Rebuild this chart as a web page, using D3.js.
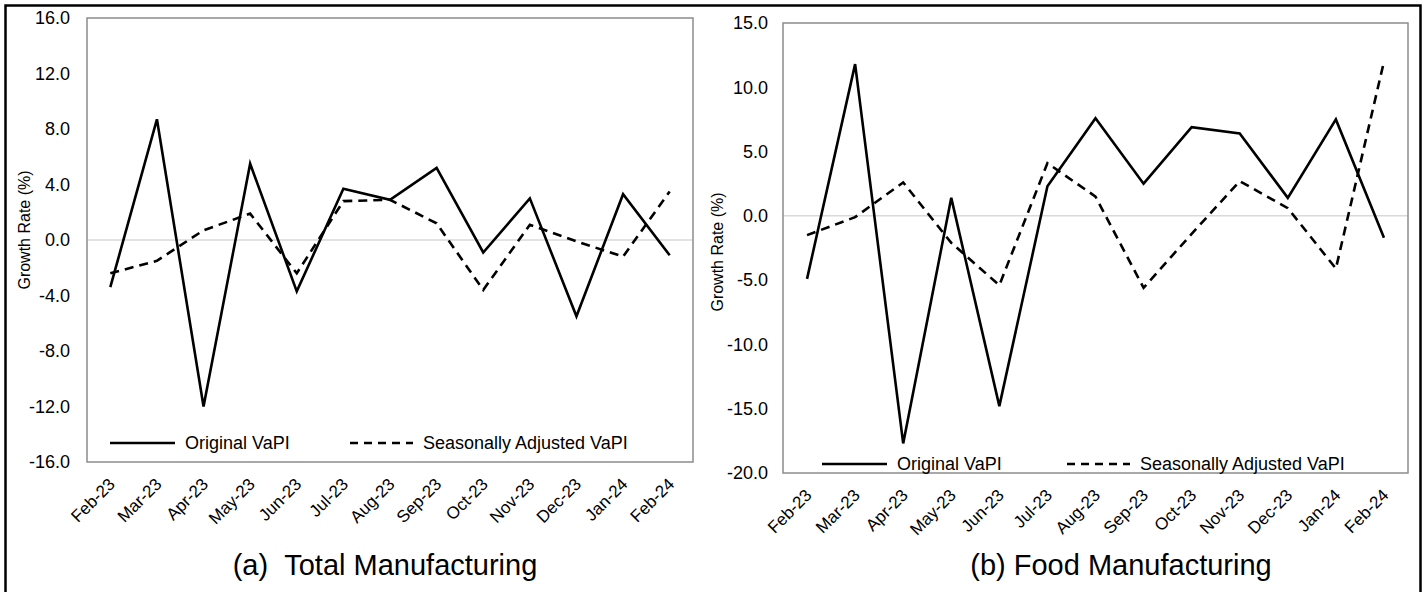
<!DOCTYPE html>
<html><head><meta charset="utf-8">
<script src="https://cdn.jsdelivr.net/npm/d3@7/dist/d3.min.js"></script>
<style>
body{margin:0;background:#fff}
svg{display:block}
text{font-family:"Liberation Sans", Arial, sans-serif;fill:#000}
</style>
</head><body>
<svg id="chart" width="1428" height="592"></svg>
<script>
const months = ["Feb-23","Mar-23","Apr-23","May-23","Jun-23","Jul-23","Aug-23","Sep-23","Oct-23","Nov-23","Dec-23","Jan-24","Feb-24"];
const totalOriginal = [-3.4, 8.7, -12.0, 5.5, -3.7, 3.7, 2.9, 5.2, -0.9, 3.0, -5.5, 3.3, -1.1];
const totalSeasonal = [-2.4, -1.5, 0.7, 1.9, -2.4, 2.8, 2.9, 1.2, -3.6, 1.1, -0.1, -1.2, 3.5];
const foodOriginal = [-4.9, 11.8, -17.7, 1.4, -14.8, 2.3, 7.6, 2.5, 6.9, 6.4, 1.4, 7.5, -1.7];
const foodSeasonal = [-1.5, -0.1, 2.6, -2.1, -5.4, 4.1, 1.5, -5.6, -1.4, 2.7, 0.6, -4.1, 12.0];
const totalTicks = [16, 12, 8, 4, 0, -4, -8, -12, -16];
const foodTicks = [15, 10, 5, 0, -5, -10, -15, -20];
const seriesNames = ["Original VaPI", "Seasonally Adjusted VaPI"];
const titles = ["(a)\u00A0\u00A0Total Manufacturing", "(b) Food Manufacturing"];

const svg = d3.select("#chart");
const FONT = '"Liberation Sans", Arial, sans-serif';

// outer frame
svg.append("path")
  .attr("d", "M5.5,600 L5.5,5.5 L1420.5,5.5 L1420.5,600")
  .attr("fill", "none").attr("stroke", "#000").attr("stroke-width", 2.5);

function panel(cfg) {
  const g = svg.append("g");
  const x = d3.scalePoint().domain(months).range([cfg.x0, cfg.x1]).padding(0.5);
  const y = d3.scaleLinear().domain([d3.min(cfg.ticks), d3.max(cfg.ticks)]).range([cfg.y1, cfg.y0]);

  // zero gridline
  g.append("line")
    .attr("x1", cfg.x0).attr("x2", cfg.x1)
    .attr("y1", y(0)).attr("y2", y(0))
    .attr("stroke", "#d9d9d9").attr("stroke-width", 1.5);

  // plot border
  g.append("rect")
    .attr("x", cfg.x0).attr("y", cfg.y0)
    .attr("width", cfg.x1 - cfg.x0).attr("height", cfg.y1 - cfg.y0)
    .attr("fill", "none").attr("stroke", "#8c8c8c").attr("stroke-width", 1.5);

  // y axis
  const ya = g.append("g")
    .attr("transform", `translate(${cfg.x0},0)`)
    .call(d3.axisLeft(y).tickValues(cfg.ticks).tickSize(0).tickPadding(cfg.tickPad).tickFormat(v => v.toFixed(1)));
  ya.select(".domain").remove();
  ya.selectAll("text").attr("font-size", 18).attr("font-family", FONT).attr("fill", "#000");

  // x labels
  const xa = g.append("g")
    .attr("transform", `translate(0,${cfg.y1})`)
    .call(d3.axisBottom(x).tickSize(0).tickPadding(0));
  xa.select(".domain").remove();
  xa.selectAll("text")
    .attr("font-size", 17).attr("font-family", FONT).attr("fill", "#000")
    .attr("text-anchor", "end")
    .attr("y", 0).attr("dy", "0.35em")
    .attr("transform", "translate(1,19) rotate(-45)");

  // y axis title
  g.append("text")
    .attr("transform", `translate(${cfg.titleX},${cfg.titleY}) rotate(-90)`)
    .attr("text-anchor", "middle").attr("dominant-baseline", "central")
    .attr("font-size", 16).text("Growth Rate (%)");

  // lines
  const line = d3.line().x((d, i) => x(months[i])).y(d => y(d));
  g.append("path").datum(cfg.orig).attr("d", line)
    .attr("fill", "none").attr("stroke", "#000").attr("stroke-width", 2.6).attr("stroke-linejoin", "miter");
  g.append("path").datum(cfg.seas).attr("d", line)
    .attr("fill", "none").attr("stroke", "#000").attr("stroke-width", 2.6).attr("stroke-dasharray", "9,6");

  // legend
  const ly = cfg.legendY;
  g.append("line").attr("x1", cfg.leg1).attr("x2", cfg.leg1 + 65).attr("y1", ly).attr("y2", ly)
    .attr("stroke", "#000").attr("stroke-width", 2.6);
  g.append("text").attr("x", cfg.leg1 + 75).attr("y", ly).attr("dominant-baseline", "central")
    .attr("font-size", 18).text(seriesNames[0]);
  g.append("line").attr("x1", cfg.leg2).attr("x2", cfg.leg2 + 63).attr("y1", ly).attr("y2", ly)
    .attr("stroke", "#000").attr("stroke-width", 2.6).attr("stroke-dasharray", "8,6");
  g.append("text").attr("x", cfg.leg2 + 73).attr("y", ly).attr("dominant-baseline", "central")
    .attr("font-size", 18).text(seriesNames[1]);

  // panel title
  g.append("text").attr("x", cfg.capX).attr("y", 575).attr("text-anchor", "middle")
    .attr("font-size", 29).text(cfg.title);
}

panel({x0: 87, x1: 693, y0: 18, y1: 462, ticks: totalTicks, tickPad: 17,
  orig: totalOriginal, seas: totalSeasonal, titleX: 24, titleY: 230,
  legendY: 443, leg1: 110, leg2: 350, capX: 385, title: titles[0]});
panel({x0: 783, x1: 1408, y0: 23, y1: 473, ticks: foodTicks, tickPad: 15,
  orig: foodOriginal, seas: foodSeasonal, titleX: 717, titleY: 252,
  legendY: 464, leg1: 822, leg2: 1067, capX: 1121, title: titles[1]});
</script>
</body></html>
